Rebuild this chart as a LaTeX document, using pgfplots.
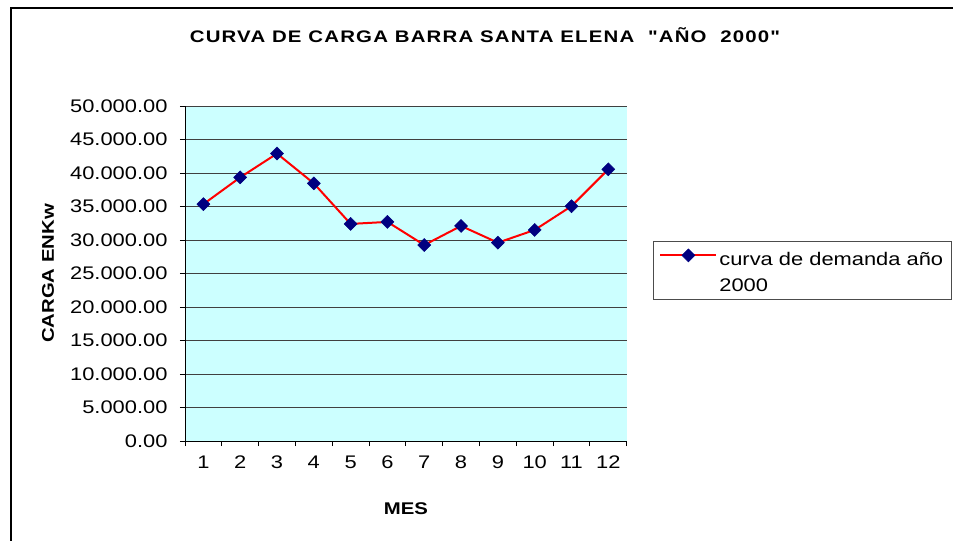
\documentclass[border=0pt]{standalone}
\usepackage{pgfplots}
\pgfplotsset{compat=1.18}
\usepackage{fontspec}
\setmainfont{Liberation Sans}
\newfontfamily\spfont[FakeStretch=1.2]{Liberation Sans}
\newfontfamily\tfont[FakeStretch=1.22, LetterSpace=7]{Liberation Sans}
\definecolor{plotbg}{HTML}{CCFFFF}
\definecolor{navy}{HTML}{000080}
\begin{document}
\begin{tikzpicture}
\path[use as bounding box] (-185bp,-100bp) rectangle (768bp,441bp);
\draw[line width=2bp] (-174bp,-100bp) -- (-174bp,433bp) -- (768bp,433bp);
\node[font=\tfont\bfseries\fontsize{16.8}{19}\selectfont] at (300bp,406bp) {CURVA DE CARGA BARRA SANTA ELENA\ \ "AÑO\ \ 2000"};
\begin{axis}[
 scale only axis, width=441.7bp, height=335bp,
 xmin=0.5, xmax=12.5, ymin=0, ymax=50000,
 scaled y ticks=false,
 axis lines*=left,
 axis line style={black, line width=0.8bp},
 axis background/.style={fill=plotbg},
 xtick={1,2,3,4,5,6,7,8,9,10,11,12},
 xticklabels={1,2,3,4,5,6,7,8,9,10,11,12},
 major x tick style={draw=none},
 minor xtick={0.5,1.5,2.5,3.5,4.5,5.5,6.5,7.5,8.5,9.5,10.5,11.5,12.5},
 minor tick length=5bp,
 ytick={0,5000,10000,15000,20000,25000,30000,35000,40000,45000,50000},
 yticklabels={0.00,5.000.00,10.000.00,15.000.00,20.000.00,25.000.00,30.000.00,35.000.00,40.000.00,45.000.00,50.000.00},
 tick align=outside, major tick length=5bp,
 tick style={black, line width=0.8bp},
 ymajorgrids, grid style={black!75, line width=0.8bp},
 ticklabel style={font=\spfont\fontsize{18.3}{22}\selectfont},
 yticklabel style={anchor=east, xshift=-9bp},
 xticklabel style={anchor=north, yshift=-6bp},
 xlabel={MES}, ylabel={CARGA ENKw},
 label style={font=\spfont\bfseries\fontsize{17}{20}\selectfont},
 xlabel style={at={(axis description cs:0.5,-0.203)}, anchor=center},
 ylabel style={at={(axis description cs:-0.310,0.5)}, anchor=center},
 legend style={at={(axis description cs:1.06,0.597)}, anchor=north west, draw=black!70, font=\spfont\fontsize{18.3}{26}\selectfont, inner xsep=6bp, inner ysep=5bp, cells={align=left}},
 legend image code/.code={\begin{scope}[yshift=15bp]\draw[mark repeat=2, mark phase=2] plot coordinates {(0bp,0bp) (28bp,0bp) (56bp,0bp)};\end{scope}},
]
\addplot[red, line width=2bp, mark=square*, mark size=4.6bp, mark options={rotate=45, fill=navy, draw=navy, solid, line width=0.5bp}] coordinates {
(1,35350) (2,39350) (3,42900) (4,38450) (5,32400) (6,32700)
(7,29250) (8,32100) (9,29600) (10,31500) (11,35050) (12,40550)};
\addlegendentry{\rule{0pt}{17bp}curva de demanda año\\2000}
\end{axis}
\end{tikzpicture}
\end{document}
